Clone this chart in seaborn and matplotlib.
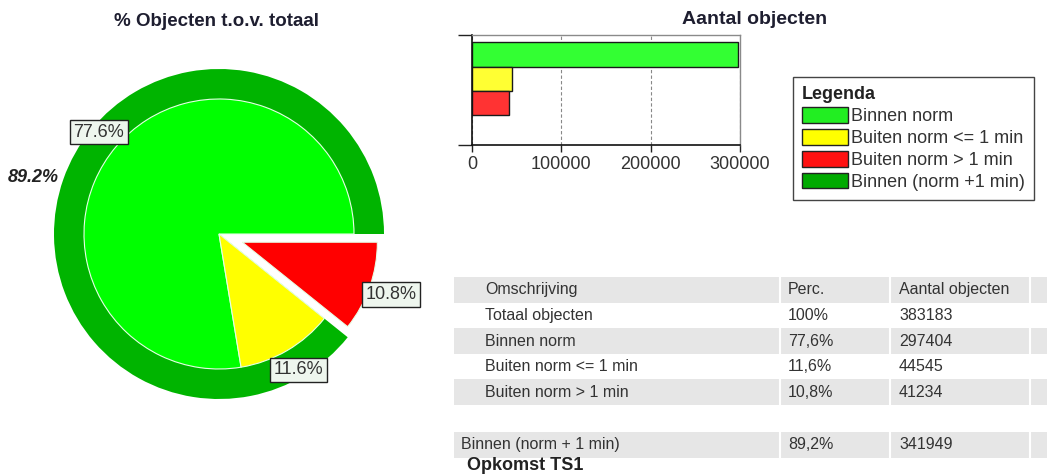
import matplotlib
matplotlib.use('Agg')
import matplotlib.pyplot as plt
import seaborn as sns
import pandas as pd
from matplotlib.patches import Patch, Rectangle

# ---------------- data ----------------
categories = ['Binnen norm', 'Buiten norm <= 1 min', 'Buiten norm > 1 min']
counts = [297404, 44545, 41234]
total_count = 383183
binnen_plus_count = 341949
binnen_plus_label = '89.2%'
legend_labels = ['Binnen norm', 'Buiten norm <= 1 min', 'Buiten norm > 1 min',
                 'Binnen (norm +1 min)']
x_ticks = [0, 100000, 200000, 300000]

table_header = ['Omschrijving', 'Perc.', 'Aantal objecten']
table_desc = ['Totaal objecten', 'Binnen norm', 'Buiten norm <= 1 min', 'Buiten norm > 1 min']
table_perc = ['100%', '77,6%', '11,6%', '10,8%']
table_count = ['383183', '297404', '44545', '41234']
summary_desc = 'Binnen (norm + 1 min)'
summary_perc = '89,2%'
summary_count = '341949'
footer = 'Opkomst TS1'

# ---------------- style ----------------
pie_colors = ['#00ff00', '#ffff00', '#ff0000']
ring_color = '#00b400'
bar_colors = ['#33ff33', '#ffff33', '#ff3333']
legend_colors = ['#22ee22', '#ffff00', '#ff1111', '#00aa00']

sns.set_theme(style='white')
plt.rcParams['font.family'] = ['Liberation Sans', 'DejaVu Sans']

W, H = 1047, 474
fig = plt.figure(figsize=(W / 100, H / 100), dpi=100)
fig.patch.set_facecolor('white')


def fx(px):
    return px / W


def fy(py):
    return 1 - py / H


# ---------------- pie ----------------
cx, cy, half, R = 219, 234, 200, 165
ax_pie = fig.add_axes([fx(cx - half), fy(cy + half), 2 * half / W, 2 * half / H])
ax_pie.pie([binnen_plus_count, counts[2]], radius=1, startangle=0, counterclock=True,
           colors=[ring_color, (1, 1, 1, 0)], labels=[binnen_plus_label, ''],
           labeldistance=1.03,
           textprops=dict(fontsize=13, fontweight='bold', fontstyle='italic', color='#222222'),
           wedgeprops=dict(linewidth=0))
inner_r = 135 / R
ax_pie.pie(counts, radius=inner_r, startangle=0, counterclock=True, colors=pie_colors,
           explode=[0, 0, 0.15], autopct='%.1f%%', pctdistance=0.955 / inner_r,
           textprops=dict(fontsize=13, color='#333333',
                          bbox=dict(boxstyle='square,pad=0.2', fc='#eef6ee', ec='#222222', lw=1)),
           wedgeprops=dict(edgecolor='#e6ffe6', linewidth=0.8))
lim = half / R
ax_pie.set_xlim(-lim, lim)
ax_pie.set_ylim(-lim, lim)
ax_pie.axis('off')

fig.text(fx(217), fy(22), '% Objecten t.o.v. totaal', ha='center', va='center',
         fontsize=13.5, fontweight='bold', color='#1e1e30')

# ---------------- bar chart ----------------
ax_bar = fig.add_axes([fx(472), fy(145), 268 / W, 110 / H])
df = pd.DataFrame({'cat': categories, 'count': counts})
sns.barplot(data=df, x='count', y='cat', hue='cat', palette=bar_colors, width=1.0,
            saturation=1, edgecolor='#1a1a1a', linewidth=1, legend=False, ax=ax_bar,
            orient='h')
ax_bar.set_xlim(0, 300000)
ax_bar.set_ylim(3.71, -0.79)
ax_bar.set_xticks(x_ticks, [str(t) for t in x_ticks])
ax_bar.set_yticks([-0.79, 3.71], ['', ''])
ax_bar.set_xlabel('')
ax_bar.set_ylabel('')
ax_bar.grid(False)
ax_bar.xaxis.grid(True, linestyle=(0, (3, 2)), color='#888888', linewidth=0.8)
ax_bar.set_axisbelow(True)
for side in ['left', 'bottom']:
    ax_bar.spines[side].set_color('#111111')
    ax_bar.spines[side].set_linewidth(1.2)
for side in ['top', 'right']:
    ax_bar.spines[side].set_color('#8a8a8a')
    ax_bar.spines[side].set_linewidth(1)
ax_bar.tick_params(axis='x', bottom=True, length=5, width=1, color='#222222',
                   labelsize=13, labelcolor='#333333', pad=3)
ax_bar.tick_params(axis='y', left=True, length=10, width=1, color='#222222')

fig.text(fx(755), fy(20), 'Aantal objecten', ha='center', va='center',
         fontsize=14, fontweight='bold', color='#1e1e30')

# ---------------- legend ----------------
handles = [Patch(facecolor=c, edgecolor='#222222', linewidth=1) for c in legend_colors]
leg = fig.legend(handles, legend_labels, loc='upper left',
                 bbox_to_anchor=(fx(793), fy(77)), bbox_transform=fig.transFigure,
                 title='Legenda', title_fontproperties={'weight': 'bold', 'size': 13},
                 alignment='left', fontsize=13, labelcolor='#333333', frameon=True,
                 fancybox=False, edgecolor='#444444', framealpha=1,
                 handlelength=2.55, handleheight=0.95, handletextpad=0.18,
                 labelspacing=0.22, borderpad=0.5, borderaxespad=0)
leg.get_frame().set_linewidth(1)
leg.get_title().set_color('#222222')

# ---------------- table ----------------
ax_t = fig.add_axes([0, 0, 1, 1], zorder=-1)
ax_t.set_xlim(0, W)
ax_t.set_ylim(H, 0)
ax_t.axis('off')

row_h = 25.6
row_tops = [277 + i * row_h for i in range(5)]
summary_top = 432
gray = '#e6e6e6'
col_x = [485, 788, 899]
seps = [780, 890, 1030]

rows = [table_header] + [[d, p, c] for d, p, c in zip(table_desc, table_perc, table_count)]
for i, (top, row) in enumerate(zip(row_tops, rows)):
    if i % 2 == 0:
        ax_t.add_patch(Rectangle((454, top), W - 454, row_h, fc=gray, ec='none'))
    for x, txt in zip(col_x, row):
        ax_t.text(x, top + row_h / 2, txt, ha='left', va='center', fontsize=11.5,
                  color='#333333')

ax_t.add_patch(Rectangle((454, summary_top), W - 454, row_h, fc=gray, ec='none'))
for x, txt in zip([461, col_x[1], col_x[2]], [summary_desc, summary_perc, summary_count]):
    ax_t.text(x, summary_top + row_h / 2, txt, ha='left', va='center', fontsize=11.5,
              color='#333333')

for sx in seps:
    ax_t.plot([sx, sx], [row_tops[0], row_tops[-1] + row_h], color='white', lw=1.5)
    ax_t.plot([sx, sx], [summary_top, summary_top + row_h], color='white', lw=1.5)

ax_t.text(467, 466, footer, ha='left', va='center', fontsize=13, fontweight='bold',
          color='#222222')

fig.savefig('out.png', dpi=100, facecolor='white')
